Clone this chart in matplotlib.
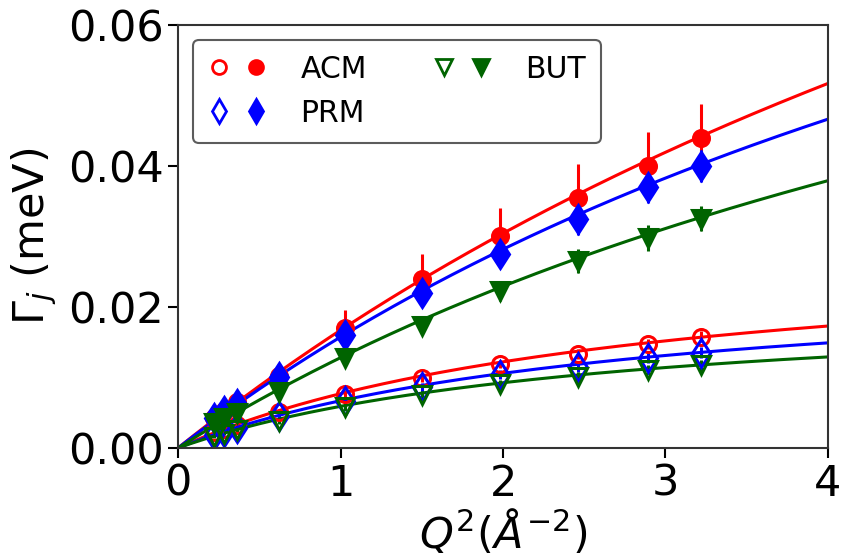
import numpy as np
import matplotlib
matplotlib.use("Agg")
import matplotlib.pyplot as plt
from matplotlib.lines import Line2D
from matplotlib.legend_handler import HandlerTuple
from matplotlib.ticker import FormatStrFormatter

# -------------------------------
# DATA
# -------------------------------
q2 = [0.22, 0.28, 0.36, 0.62, 1.03, 1.50, 1.98, 2.46, 2.89, 3.22]

acm_fill = [0.0042, 0.0053, 0.0065, 0.0102, 0.0170, 0.0240, 0.0300, 0.0355, 0.0400, 0.0440]
acm_fill_err = [0.0004, 0.0005, 0.0006, 0.0010, 0.0025, 0.0035, 0.0040, 0.0048, 0.0048, 0.0048]
prm_fill = [0.0042, 0.0052, 0.0063, 0.0100, 0.0160, 0.0220, 0.0275, 0.0325, 0.0370, 0.0400]
prm_fill_err = [0.0004, 0.0005, 0.0006, 0.0009, 0.0013, 0.0016, 0.0019, 0.0023, 0.0023, 0.0023]
but_fill = [0.0035, 0.0042, 0.0050, 0.0080, 0.0128, 0.0173, 0.0222, 0.0265, 0.0298, 0.0325]
but_fill_err = [0.0003, 0.0004, 0.0005, 0.0007, 0.0010, 0.0012, 0.0014, 0.0017, 0.0018, 0.0018]

acm_open = [0.0022, 0.0027, 0.0033, 0.0051, 0.0077, 0.0099, 0.0119, 0.0133, 0.0148, 0.0158]
prm_open = [0.0018, 0.0022, 0.0028, 0.0045, 0.0067, 0.0086, 0.0104, 0.0115, 0.0127, 0.0135]
but_open = [0.0016, 0.0020, 0.0025, 0.0038, 0.0058, 0.0075, 0.0090, 0.0101, 0.0110, 0.0117]
open_err = [0.0002, 0.0002, 0.0003, 0.0004, 0.0005, 0.0006, 0.0006, 0.0007, 0.0007, 0.0008]

# jump-diffusion fit parameters: Gamma = D Q^2 / (1 + D Q^2 tau)
fit_D = {"acm_fill": 0.0185, "prm_fill": 0.0178, "but_fill": 0.0145,
         "acm_open": 0.0104, "prm_open": 0.00912, "but_open": 0.00815}
fit_tau = {"acm_fill": 5.83, "prm_fill": 7.4, "but_fill": 9.14,
           "acm_open": 33.8, "prm_open": 39.7, "but_open": 46.8}

RED, BLUE, GREEN = "red", "blue", "#006400"


def jump_model(x, D, tau):
    return D * x / (1 + D * x * tau)


fig = plt.figure(figsize=(8.41, 5.53), dpi=100)
ax = fig.add_axes([0.2117, 0.19, 0.7728, 0.765])

xfit = np.linspace(0, 4, 200)

series = [
    ("acm_fill", acm_fill, acm_fill_err, RED, "o", True, 11.5),
    ("acm_open", acm_open, open_err, RED, "o", False, 11.5),
    ("prm_fill", prm_fill, prm_fill_err, BLUE, "d", True, 14.5),
    ("prm_open", prm_open, open_err, BLUE, "d", False, 14.5),
    ("but_fill", but_fill, but_fill_err, GREEN, "v", True, 13),
    ("but_open", but_open, open_err, GREEN, "v", False, 13),
]

for key, vals, err, col, mk, filled, ms in series:
    ax.plot(xfit, jump_model(xfit, fit_D[key], fit_tau[key]), color=col, lw=2.2)
    ax.errorbar(q2, vals, yerr=err, fmt=mk, color=col, ms=ms,
                mfc=col if filled else "none", mec=col, mew=2.2,
                elinewidth=2.2, capsize=0)

ax.set_xlim(0, 4)
ax.set_ylim(0, 0.06)
ax.set_xticks([0, 1, 2, 3, 4])
ax.set_yticks([0, 0.02, 0.04, 0.06])
ax.yaxis.set_major_formatter(FormatStrFormatter("%.2f"))
ax.tick_params(labelsize=31, length=7, width=1.5, direction="out")
for sp in ax.spines.values():
    sp.set_linewidth(1.5)
    sp.set_color("#333333")

ax.set_ylabel(r"$\Gamma_j$ (meV)", fontsize=31, labelpad=6)
ax.set_xlabel(r"$Q^2(\AA^{-2})$", fontsize=31, labelpad=2)

# legend with open + filled marker pairs
def pair(col, mk, ms):
    o = Line2D([], [], ls="none", marker=mk, ms=ms, mfc="none", mec=col, mew=2)
    f = Line2D([], [], ls="none", marker=mk, ms=ms, mfc=col, mec=col, mew=2)
    return (o, f)

handles = [pair(RED, "o", 10), pair(BLUE, "d", 12), pair(GREEN, "v", 12)]
labels = ["ACM", "PRM", "BUT"]
leg = ax.legend(handles, labels, ncol=2, loc="upper left", fontsize=21.5,
                handler_map={tuple: HandlerTuple(ndivide=None, pad=0.5)},
                handlelength=2.0, handletextpad=1.1, columnspacing=2.2,
                borderpad=0.5, labelspacing=0.5, borderaxespad=0.5)
leg.get_frame().set_edgecolor("#333333")
leg.get_frame().set_linewidth(1.5)

fig.savefig("out.png", dpi=100)
